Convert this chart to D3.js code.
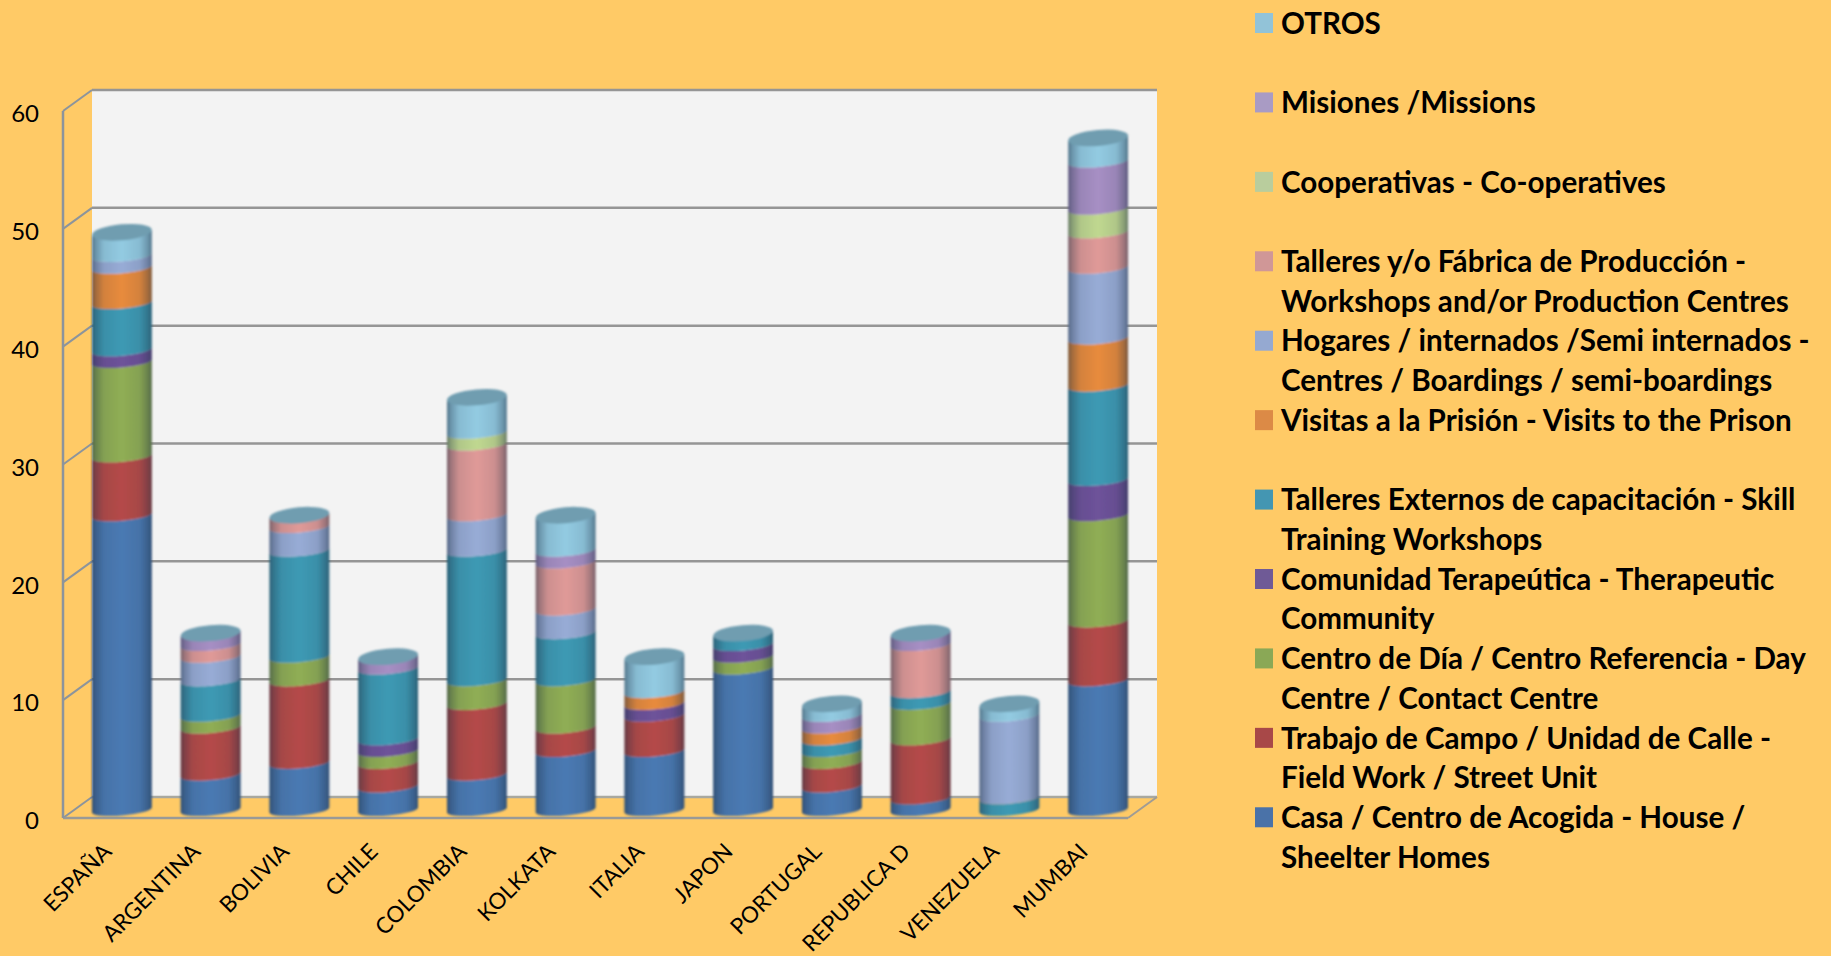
<!DOCTYPE html>
<html><head><meta charset="utf-8">
<script src="https://cdn.jsdelivr.net/npm/d3@7/dist/d3.min.js"></script>
<style>html,body{margin:0;padding:0;background:#ffca66}svg{display:block}text{font-family:Lato,"Open Sans",sans-serif;fill:#000}</style>
</head><body><svg id="c" width="1831" height="956"></svg>
<script>
const categories=["ESPAÑA","ARGENTINA","BOLIVIA","CHILE","COLOMBIA","KOLKATA","ITALIA","JAPON","PORTUGAL","REPUBLICA D","VENEZUELA","MUMBAI"];
const seriesNames=["Casa","Trabajo","CentroDia","Comunidad","TalleresExt","Visitas","Hogares","TalleresProd","Cooperativas","Misiones","Otros"];
const Casa=[25,3,4,2,3,5,5,12,2,1,0,11];
const Trabajo=[5,4,7,2,6,2,3,0,2,5,0,5];
const CentroDia=[8,1,2,1,2,4,0,1,1,3,0,9];
const Comunidad=[1,0,0,1,0,0,1,1,0,0,0,3];
const TalleresExt=[4,3,9,6,11,4,0,1,1,1,1,8];
const Visitas=[3,0,0,0,0,0,1,0,1,0,0,4];
const Hogares=[1,2,2,0,3,2,0,0,0,0,7,6];
const TalleresProd=[0,1,1,0,6,4,0,0,0,4,0,3];
const Cooperativas=[0,0,0,0,1,0,0,0,0,0,0,2];
const Misiones=[0,1,0,1,0,1,0,0,1,1,0,4];
const Otros=[2,0,0,0,3,3,3,0,1,0,1,2];
const values=[Casa,Trabajo,CentroDia,Comunidad,TalleresExt,Visitas,Hogares,TalleresProd,Cooperativas,Misiones,Otros];
const barColors=["#4a7ab3","#b54a48","#90ae54","#6e529a","#3d9ab4","#e88b3c","#98acd6","#e09a98","#c0d890","#a78fc4","#93cbe2"];
const swatchColors=["#4a72a8","#a84848","#8aa856","#6f5a96","#4496b2","#dc8a46","#95a9d1","#d09797","#b9cd9d","#a99bc4","#92c3d8"];
const legendLines=[
 ["OTROS"],["Misiones /Missions"],["Cooperativas - Co-operatives"],
 ["Talleres y/o Fábrica de Producción -","Workshops and/or Production Centres"],
 ["Hogares / internados /Semi internados -","Centres / Boardings / semi-boardings"],
 ["Visitas a la Prisión - Visits to the Prison"],
 ["Talleres Externos de capacitación - Skill","Training Workshops"],
 ["Comunidad Terapeútica - Therapeutic","Community"],
 ["Centro de Día / Centro Referencia - Day","Centre / Contact Centre"],
 ["Trabajo de Campo / Unidad de Calle -","Field Work / Street Unit"],
 ["Casa / Centro de Acogida - House /","Sheelter Homes"]];
const legendRows=[0,2,4,6,8,10,12,14,16,18,20];
const legendColorIndex=[10,9,8,7,6,5,4,3,2,1,0];
const yTicks=[0,10,20,30,40,50,60];

const svg=d3.select("#c");
const defs=svg.append("defs");
const fx0=63,fx1=1128,dx=29,dy=-21;
const yFront=d3.scaleLinear().domain([0,60]).range([818,111]);
const yBack=d3.scaleLinear().domain([0,60]).range([797,90]);
const yBar=d3.scaleLinear().domain([0,60]).range([810,102.6]);
const x=d3.scaleBand().domain(categories).range([fx0+14.5,fx1+14.5]);
const barW=60,rx=barW/2,ry=5.5,capRy=8,rot=-5;

defs.append("filter").attr("id","soft").attr("x","-5%").attr("y","-5%").attr("width","110%").attr("height","110%")
 .append("feGaussianBlur").attr("stdDeviation",0.8);

svg.append("rect").attr("x",fx0+dx).attr("y",yBack(60)).attr("width",fx1-fx0).attr("height",yBack(0)-yBack(60)).attr("fill","#f3f3f3");
svg.append("g").selectAll("line").data(yTicks).join("line")
 .attr("x1",fx0+dx).attr("x2",fx1+dx).attr("y1",d=>yBack(d)).attr("y2",d=>yBack(d))
 .attr("stroke",d=>d===0?"#a8a8a0":"#959595").attr("stroke-width",2.5);
svg.append("g").selectAll("line").data(yTicks).join("line")
 .attr("x1",fx0).attr("x2",fx0+dx).attr("y1",d=>yFront(d)).attr("y2",d=>yBack(d))
 .attr("stroke","#8c949c").attr("stroke-width",2);
svg.append("line").attr("x1",fx1).attr("x2",fx1+dx).attr("y1",yFront(0)).attr("y2",yBack(0)).attr("stroke","#a09c94").attr("stroke-width",2);
svg.append("line").attr("x1",fx0).attr("x2",fx1).attr("y1",yFront(0)).attr("y2",yFront(0)).attr("stroke","#9a9a96").attr("stroke-width",2.5);
svg.append("line").attr("x1",fx0).attr("x2",fx0).attr("y1",yFront(60)).attr("y2",yFront(0)).attr("stroke","#8c949c").attr("stroke-width",2.5);

const yAxis=d3.axisLeft(yFront).tickValues(yTicks).tickSize(0).tickPadding(24);
const ag=svg.append("g").attr("transform",`translate(${fx0},0)`).call(yAxis);
ag.select(".domain").remove();
ag.selectAll("text").attr("font-size",24).style("font-family","Lato").attr("dy","0.32em").attr("transform","translate(0,3)");

const g=defs.append("linearGradient").attr("id","shade").attr("x1",0).attr("x2",1).attr("y1",0).attr("y2",0);
[[0,.55],[.06,.35],[.2,.1],[.5,0],[.8,.1],[.94,.35],[1,.55]].forEach(([o,a])=>g.append("stop").attr("offset",o).attr("stop-color","#1c2c40").attr("stop-opacity",a));
const a=rot*Math.PI/180, cx=Math.cos(a)*rx, sy=Math.sin(a)*rx;
function segPath(c,y0,y1){
 const L=[c-cx,y0-sy],R=[c+cx,y0+sy],L1=[c-cx,y1-sy],R1=[c+cx,y1+sy];
 return `M${L}A${rx},${ry} ${rot} 0 0 ${R}L${R1}A${rx},${ry} ${rot} 0 1 ${L1}Z`;
}
const stacked=d3.stack().keys(d3.range(seriesNames.length)).value((d,k)=>values[k][d])(d3.range(categories.length));
const bars=svg.append("g").attr("filter","url(#soft)");
categories.forEach((cat,i)=>{
 const c=x(cat)+x.bandwidth()/2;
 const gb=bars.append("g");
 stacked.forEach((s,k)=>{
  if(values[k][i]===0) return;
  gb.append("path").attr("d",segPath(c,yBar(s[i][0]),yBar(s[i][1]))).attr("fill",barColors[k]);
 });
 const total=d3.sum(values,v=>v[i]);
 gb.append("path").attr("d",segPath(c,yBar(0),yBar(total))).attr("fill","url(#shade)");
 gb.append("ellipse").attr("cx",c).attr("cy",yBar(total)).attr("rx",rx).attr("ry",capRy)
  .attr("transform",`rotate(${rot} ${c} ${yBar(total)})`).attr("fill","#6f9db0");
});

svg.append("g").selectAll("text").data(categories).join("text")
 .attr("text-anchor","end").attr("font-size",22.4)
 .attr("transform",d=>`translate(${x(d)+x.bandwidth()/2-9},853) rotate(-45)`)
 .text(d=>d);

const rowY=d3.scaleLinear().domain([0,21]).range([23,857]);
const lg=svg.append("g");
legendLines.forEach((lines,i)=>{
 const r=legendRows[i];
 lg.append("rect").attr("x",1255).attr("y",rowY(r)-10).attr("width",18).attr("height",20).attr("fill",swatchColors[legendColorIndex[i]]);
 lines.forEach((t,j)=>{
  lg.append("text").attr("x",1281).attr("y",rowY(r+j)).attr("dy","0.36em").attr("font-size",29.6).attr("font-weight",700).text(t);
 });
});
</script></body></html>
